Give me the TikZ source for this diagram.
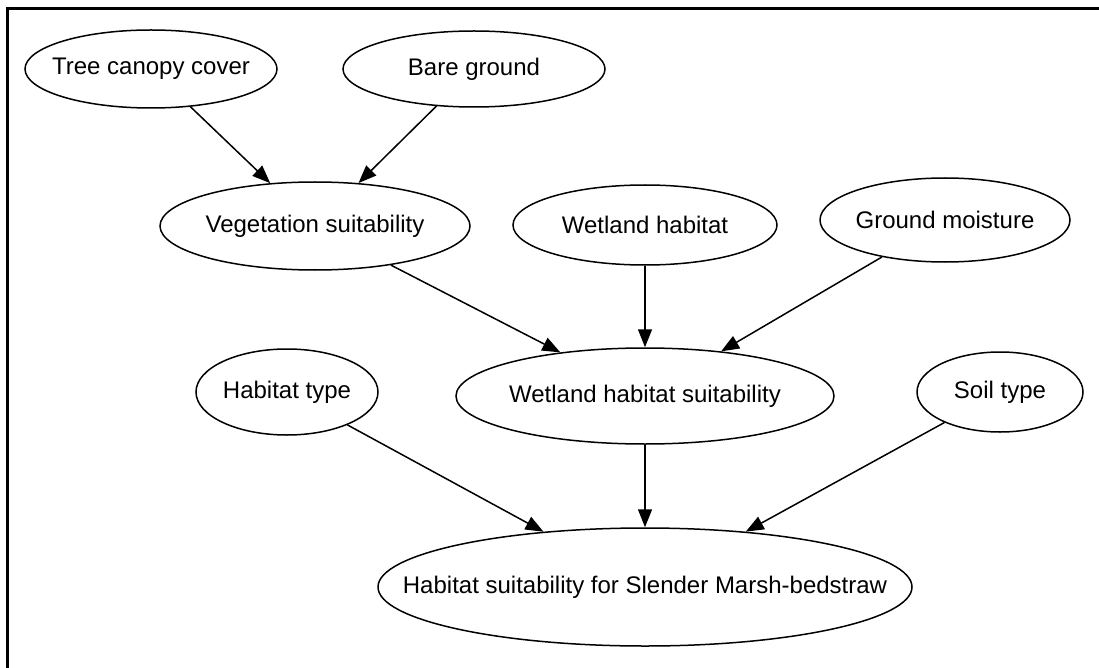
\documentclass[tikz,border=0pt]{standalone}
\usepackage{fontspec}
\setmainfont{Liberation Sans}
\usetikzlibrary{arrows.meta,shapes.geometric}
\newcommand{\vlabel}[1]{\makebox[0pt]{#1}}

\begin{document}
\begin{tikzpicture}[x=1pt,y=-1pt,>={Triangle[length=18pt,width=14pt]},every node/.append style={align=center,font=\fontsize{24}{28}\selectfont},var/.style={draw,ellipse,line width=1.5pt,inner sep=0pt},link/.style={->,line width=1.5pt},]
    \useasboundingbox (0,0) rectangle (1099,668);
    \draw[line width=3pt] (7,668) -- (7,9) -- (1099,9);
    \node [var, minimum width=252pt, minimum height=78pt] (tree) at (151,69) {\vlabel{Tree canopy cover}};
    \node [var, minimum width=262pt, minimum height=76pt] (bare) at (474,69) {\vlabel{Bare ground}};
    \node [var, minimum width=310pt, minimum height=88pt] (veg) at (315,226) {\vlabel{Vegetation suitability}};
    \node [var, minimum width=264pt, minimum height=80pt] (wet) at (645,225) {\vlabel{Wetland habitat}};
    \node [var, minimum width=250pt, minimum height=84pt] (moist) at (945,220) {\vlabel{Ground moisture}};
    \node [var, minimum width=378pt, minimum height=96pt] (wetsuit) at (645,396) {\vlabel{Wetland habitat suitability}};
    \node [var, minimum width=182pt, minimum height=86pt] (habtype) at (287,392) {\vlabel{Habitat type}};
    \node [var, minimum width=166pt, minimum height=80pt] (soil) at (1000,392) {\vlabel{Soil type}};
    \node [var, minimum width=534pt, minimum height=118pt] (suit) at (645,587) {\vlabel{Habitat suitability for Slender Marsh-bedstraw}};
    \path[link] (tree) edge (veg);
    \path[link] (bare) edge (veg);
    \path[link] (veg) edge (wetsuit);
    \path[link] (wet) edge (wetsuit);
    \path[link] (moist) edge (wetsuit);
    \path[link] (habtype) edge (suit);
    \path[link] (wetsuit) edge (suit);
    \path[link] (soil) edge (suit);
\end{tikzpicture}
\end{document}
